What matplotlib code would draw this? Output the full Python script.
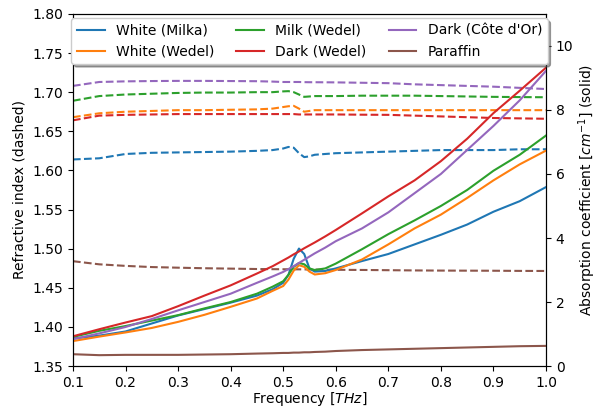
import matplotlib
matplotlib.use("Agg")
import matplotlib.pyplot as plt

# frequency grid [THz]
freq = [0.10, 0.15, 0.20, 0.25, 0.30, 0.35, 0.40, 0.45, 0.48, 0.50, 0.51, 0.52, 0.53,
        0.54, 0.55, 0.56, 0.58, 0.60, 0.65, 0.70, 0.75, 0.80, 0.85, 0.90, 0.95, 1.00]

labels = ["White (Milka)", "White (Wedel)", "Milk (Wedel)", "Dark (Wedel)",
          "Dark (Côte d'Or)", "Paraffin"]

# refractive index (dashed, left axis)
n_white_milka = [1.614, 1.6155, 1.621, 1.6225, 1.623, 1.6235, 1.624, 1.625, 1.626, 1.628, 1.630, 1.629, 1.622,
                 1.617, 1.618, 1.620, 1.621, 1.622, 1.623, 1.624, 1.625, 1.626, 1.626, 1.626, 1.627, 1.627]
n_white_wedel = [1.668, 1.673, 1.675, 1.676, 1.677, 1.677, 1.6775, 1.678, 1.679, 1.681, 1.682, 1.6825, 1.679,
                 1.675, 1.676, 1.677, 1.677, 1.677, 1.677, 1.677, 1.677, 1.677, 1.677, 1.677, 1.677, 1.677]
n_milk_wedel = [1.689, 1.695, 1.697, 1.698, 1.699, 1.6995, 1.6995, 1.700, 1.700, 1.701, 1.7013, 1.700, 1.697,
                1.694, 1.6945, 1.695, 1.695, 1.695, 1.6955, 1.6955, 1.6955, 1.695, 1.6945, 1.694, 1.6937, 1.6935]
n_dark_wedel = [1.664, 1.670, 1.671, 1.6715, 1.672, 1.672, 1.672, 1.672, 1.672, 1.672, 1.672, 1.672, 1.6715,
                1.6715, 1.6715, 1.6715, 1.6715, 1.6715, 1.6712, 1.671, 1.670, 1.669, 1.668, 1.667, 1.6665, 1.666]
n_dark_cote = [1.708, 1.713, 1.7138, 1.7142, 1.7144, 1.7144, 1.7142, 1.714, 1.7135, 1.713, 1.713, 1.713, 1.713,
               1.7128, 1.7127, 1.7127, 1.7126, 1.7125, 1.712, 1.7115, 1.710, 1.709, 1.708, 1.707, 1.7055, 1.704]
n_paraffin = [1.484, 1.480, 1.478, 1.4765, 1.4757, 1.475, 1.4745, 1.474, 1.4738, 1.4737, 1.4737, 1.4736, 1.4736,
              1.4735, 1.4734, 1.4733, 1.4732, 1.473, 1.4728, 1.4725, 1.4722, 1.472, 1.4719, 1.4718, 1.4716, 1.4715]

# absorption coefficient [cm^-1] (solid, right axis)
a_white_milka = [0.86, 0.95, 1.08, 1.33, 1.58, 1.78, 1.98, 2.20, 2.40, 2.60, 2.85, 3.35, 3.67,
                 3.50, 3.05, 2.95, 2.97, 3.05, 3.28, 3.50, 3.80, 4.10, 4.42, 4.82, 5.15, 5.59]
a_white_wedel = [0.78, 0.92, 1.05, 1.19, 1.38, 1.60, 1.85, 2.11, 2.35, 2.50, 2.70, 2.98, 3.15,
                 3.10, 2.95, 2.86, 2.90, 3.00, 3.33, 3.80, 4.30, 4.73, 5.25, 5.80, 6.30, 6.73]
a_milk_wedel = [0.91, 1.10, 1.25, 1.42, 1.59, 1.80, 2.00, 2.26, 2.48, 2.65, 2.85, 3.10, 3.22,
                3.18, 3.05, 3.00, 3.05, 3.20, 3.65, 4.12, 4.55, 5.00, 5.50, 6.10, 6.60, 7.20]
a_dark_wedel = [0.93, 1.15, 1.36, 1.56, 1.87, 2.20, 2.52, 2.89, 3.12, 3.30, 3.39, 3.49, 3.58,
                3.68, 3.77, 3.86, 4.05, 4.25, 4.77, 5.30, 5.80, 6.40, 7.10, 7.90, 8.60, 9.32]
a_dark_cote = [0.84, 1.02, 1.22, 1.47, 1.74, 2.00, 2.26, 2.60, 2.80, 2.94, 3.03, 3.12, 3.22,
               3.32, 3.42, 3.52, 3.70, 3.90, 4.30, 4.80, 5.40, 6.00, 6.75, 7.50, 8.30, 9.22]
a_paraffin = [0.37, 0.34, 0.35, 0.35, 0.35, 0.36, 0.37, 0.39, 0.40, 0.41, 0.41, 0.42, 0.42,
              0.43, 0.43, 0.44, 0.45, 0.47, 0.50, 0.52, 0.54, 0.56, 0.58, 0.60, 0.62, 0.63]

n_all = [n_white_milka, n_white_wedel, n_milk_wedel, n_dark_wedel, n_dark_cote, n_paraffin]
a_all = [a_white_milka, a_white_wedel, a_milk_wedel, a_dark_wedel, a_dark_cote, a_paraffin]
colors = ["C0", "C1", "C2", "C3", "C4", "C5"]

fig, ax = plt.subplots(figsize=(5.98, 4.09), dpi=100)
fig.subplots_adjust(left=0.122, right=0.913, top=0.966, bottom=0.105)
ax2 = ax.twinx()

handles = []
for n, a, c, lab in zip(n_all, a_all, colors, labels):
    ax.plot(freq, n, "--", color=c)
    h, = ax2.plot(freq, a, "-", color=c, label=lab)
    handles.append(h)

ax.set_xlim(0.1, 1.0)
ax.set_ylim(1.35, 1.80)
ax2.set_ylim(0, 11)
ax.set_xticks([0.1, 0.2, 0.3, 0.4, 0.5, 0.6, 0.7, 0.8, 0.9, 1.0])
ax.set_xlabel("Frequency [$THz$]", labelpad=0.5)
ax.set_ylabel("Refractive index (dashed)")
ax2.set_ylabel("Absorption coefficient [$cm^{-1}$] (solid)", labelpad=2)

ax2.legend(handles=handles, loc="upper center", ncol=3, shadow=True,
           columnspacing=1.6, borderaxespad=0.3)

fig.savefig("out.png", dpi=100)
